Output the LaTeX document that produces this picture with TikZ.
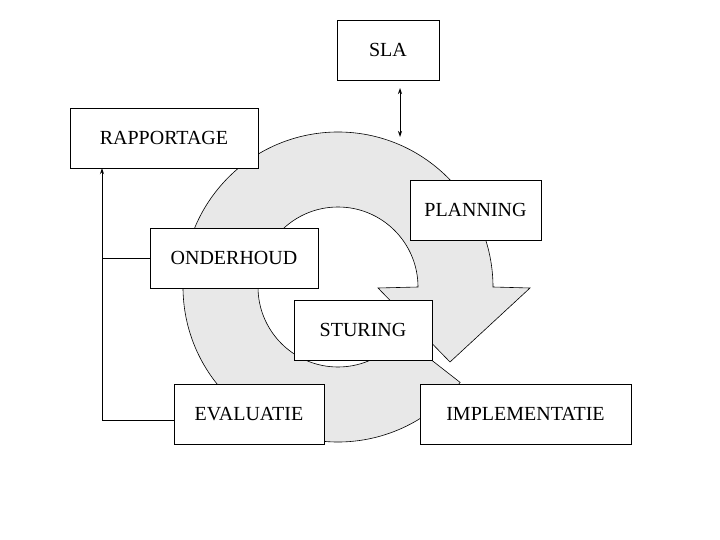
\documentclass[tikz,border=0pt]{standalone}
\usepackage{fontspec}
\setmainfont{Liberation Serif}
\usetikzlibrary{arrows.meta}
\begin{document}
\begin{tikzpicture}[x=1pt,y=1pt,
  box/.style={draw,fill=white,inner sep=0pt,font=\fontsize{20}{24}\selectfont},
  ring/.style={draw,fill=black!9,line width=0.6pt},
  conn/.style={line width=0.8pt},
  tip/.style={-{Stealth[length=6pt,width=4pt]}}]
\useasboundingbox (0,0) rectangle (720,-540);
\draw[ring] (338,-287) ++(-38:155) arc[start angle=-38,end angle=-360,radius=155]
  -- (530,-288) -- (450,-362) -- (378,-288) -- (418,-287)
  arc[start angle=-360,end angle=-38,radius=80] -- cycle;
\node[box,minimum width=102,minimum height=60] (sla) at (388,-50) {SLA};
\node[box,minimum width=188,minimum height=60] (rap) at (164,-138) {RAPPORTAGE};
\node[box,minimum width=131,minimum height=60] (plan) at (475.5,-210) {PLANNING};
\node[box,minimum width=168,minimum height=60] (ond) at (234,-258) {ONDERHOUD};
\node[box,minimum width=138,minimum height=60] (stu) at (363,-330) {STURING};
\node[box,minimum width=150,minimum height=60] (eva) at (249,-414) {EVALUATIE};
\node[box,minimum width=211,minimum height=60] (imp) at (525.5,-414) {IMPLEMENTATIE};
\coordinate (s1) at (400,-88);
\coordinate (s2) at (400,-137);
\draw[conn,{Stealth[length=6pt,width=4pt]}-{Stealth[length=6pt,width=4pt]}] (s1) -- (s2);
\coordinate (c1) at (102,-258);
\coordinate (c2) at (102,-420);
\draw[conn] (ond.west) -- (c1);
\draw[conn] (eva.west |- c2) -- (c2);
\draw[conn,tip] (c2) -- (c2 |- rap.south);
\end{tikzpicture}
\end{document}
